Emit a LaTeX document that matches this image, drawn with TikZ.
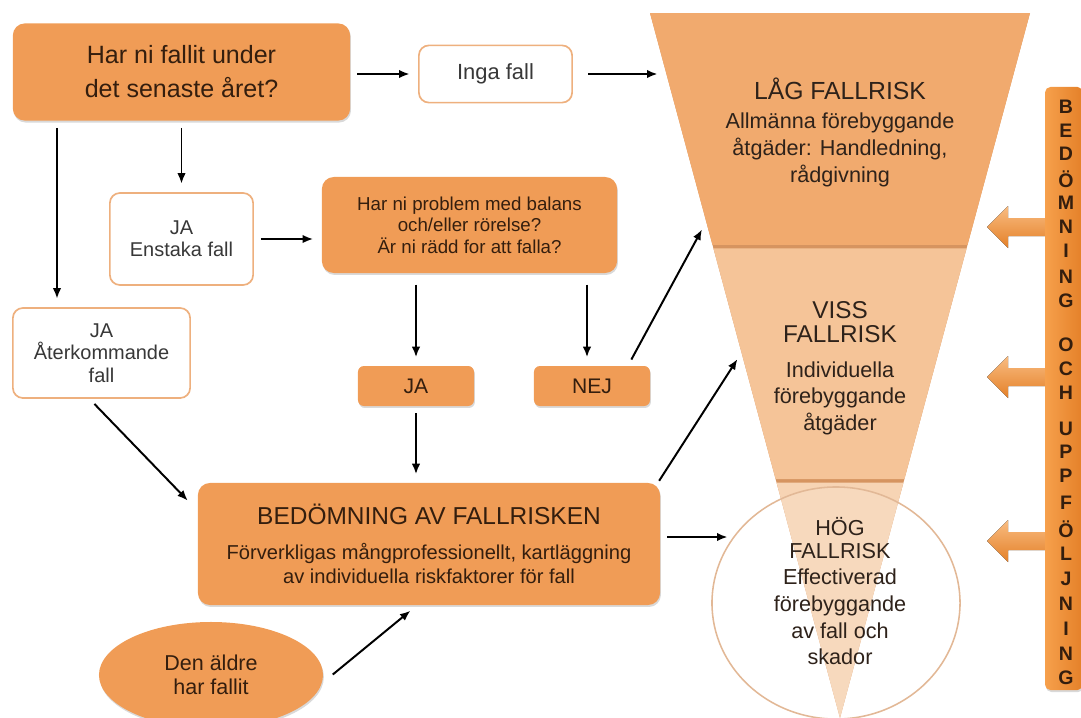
\documentclass[tikz,border=0pt]{standalone}
\usepackage{fontspec}
\setmainfont{Liberation Sans}
\usetikzlibrary{arrows.meta,calc,shadows,shapes.geometric}

\definecolor{boxorange}{RGB}{240,156,86}
\definecolor{boxtext}{RGB}{52,30,14}
\definecolor{boxline}{RGB}{238,176,126}
\definecolor{graytext}{RGB}{56,56,56}
\definecolor{lagfill}{RGB}{241,170,110}
\definecolor{vissfill}{RGB}{245,196,152}
\definecolor{hogfill}{RGB}{247,212,180}
\definecolor{bandfill}{RGB}{214,148,96}
\definecolor{ringline}{RGB}{226,184,150}
\definecolor{risktext}{RGB}{46,34,26}
\definecolor{barlight}{RGB}{246,160,76}
\definecolor{bardark}{RGB}{228,128,40}

\begin{document}
\begin{tikzpicture}[x=0.025cm,y=-0.025cm,
  orangebox/.style={fill=boxorange, rounded corners=0.3cm, text=boxtext, align=center,
    drop shadow={shadow xshift=0.6pt, shadow yshift=-1.4pt, opacity=0.3}},
  whitebox/.style={draw=boxline, line width=1.2pt, fill=white, rounded corners=0.25cm,
    text=graytext, align=center},
  conn/.style={-{Latex[length=7.5pt,width=6pt]}, line width=1.4pt, shorten <=5pt, shorten >=6pt},
  risktxt/.style={text=risktext, align=center},
  bokstav/.style={text=boxtext, font=\fontsize{13.9}{14}\selectfont\bfseries},
  blockpil/.style={top color=barlight!70!white, bottom color=bardark}]

\useasboundingbox (0,0) rectangle (1081,718);

\node[orangebox, minimum width=8.43cm, minimum height=2.43cm,
  font=\fontsize{17.8}{24.2}\selectfont] (fraga) at (181.5,72) {Har ni fallit under\\det senaste året?};
\node[whitebox, minimum width=3.83cm, minimum height=1.43cm,
  font=\fontsize{15.6}{18}\selectfont] (inga) at (495.5,74) {Inga fall};
\node[whitebox, minimum width=3.58cm, minimum height=2.3cm,
  font=\fontsize{14.2}{15.6}\selectfont] (enstaka) at (181.5,239) {JA\\Enstaka fall};
\node[whitebox, minimum width=4.43cm, minimum height=2.25cm,
  font=\fontsize{14.2}{16}\selectfont] (ater) at (101.5,353) {JA\\Återkommande\\fall};
\node[orangebox, minimum width=7.38cm, minimum height=2.4cm,
  font=\fontsize{13.3}{15.3}\selectfont] (balans) at (469.5,225)
  {Har ni problem med balans\\och/eller rörelse?\\Är ni rädd for att falla?};
\node[orangebox, rounded corners=0.15cm, minimum width=2.9cm, minimum height=1cm,
  font=\fontsize{15}{16}\selectfont] (ja) at (416,386) {JA};
\node[orangebox, rounded corners=0.15cm, minimum width=2.9cm, minimum height=1cm,
  font=\fontsize{15}{16}\selectfont] (nej) at (592,386) {NEJ};
\node[orangebox, minimum width=11.55cm, minimum height=3.05cm,
  font=\fontsize{14.3}{17}\selectfont] (bed) at (429,544)
  {{\fontsize{17.4}{17}\selectfont BEDÖMNING AV FALLRISKEN}\\[8pt]Förverkligas mångprofessionellt, kartläggning\\av individuella riskfaktorer för fall};
\node[orangebox, ellipse, minimum width=5.6cm, minimum height=2.65cm,
  font=\fontsize{15.3}{17}\selectfont] (aldre) at (211,675) {Den äldre\\har fallit};

\coordinate (ftl) at (650,13);
\coordinate (ftr) at (1030,13);
\coordinate (fap) at (840,718);
\fill[bandfill] (ftl) -- (ftr) -- (fap) -- cycle;
\fill[lagfill] (ftl) -- (ftr) -- ($(ftr)!0.329!(fap)$) -- ($(ftl)!0.329!(fap)$) -- cycle;
\fill[vissfill] ($(ftl)!0.334!(fap)$) -- ($(ftr)!0.334!(fap)$) -- ($(ftr)!0.661!(fap)$) -- ($(ftl)!0.661!(fap)$) -- cycle;
\fill[hogfill] ($(ftl)!0.666!(fap)$) -- ($(ftr)!0.666!(fap)$) -- (fap) -- cycle;
\node[ellipse, draw=ringline, line width=1.1pt, fill=white, fill opacity=0.12,
  minimum width=6.2cm, minimum height=5.8cm] (hog) at (836,603) {};

\node[risktxt, font=\fontsize{17.6}{20}\selectfont] (lagrubrik) at (840,89) {LÅG FALLRISK};
\node[risktxt, font=\fontsize{15.4}{19.2}\selectfont] (lagtext) at (840,150)
  {Allmänna förebyggande\\åtgäder: Handledning,\\rådgivning};
\node[risktxt, font=\fontsize{17.3}{17}\selectfont] (vissrubrik) at (840,322) {VISS\\FALLRISK};
\node[risktxt, font=\fontsize{15.4}{18.8}\selectfont] (visstext) at (840,398)
  {Individuella\\förebyggande\\åtgäder};
\node[risktxt, font=\fontsize{15.4}{15.8}\selectfont] (hogrubrik) at (840,538) {HÖG\\FALLRISK};
\node[risktxt, font=\fontsize{15.4}{19}\selectfont] (hogtext) at (840,617)
  {Effectiverad\\förebyggande\\av fall och\\skador};

\foreach \y in {227,377,541}
  \fill[blockpil] (987,\y) -- (1008,\y-21) -- (1008,\y-9) -- (1048,\y-9)
    -- (1048,\y+9) -- (1008,\y+9) -- (1008,\y+21) -- cycle;
\node[rounded corners=4pt, left color=barlight, right color=bardark,
  minimum width=0.95cm, minimum height=15.075cm,
  drop shadow={shadow xshift=0.6pt, shadow yshift=-1.4pt, opacity=0.3}] (bar) at (1064,388.5) {};
\foreach \ch/\y in {B/107,E/131,D/154,Ö/179,M/203,N/227,I/251,N/277,G/301,
    O/345,C/369,H/393,U/429,P/452,P/476,F/503,Ö/529,L/554,J/579,N/604,I/629,N/654,G/678}
  \node[bokstav] (b\y) at (1066,\y) {\ch};

\coordinate (lagin) at (666,74);
\coordinate (lagnej) at (706,222);
\coordinate (vissin) at (742,352);
\coordinate (hogin) at (736,537);

\draw[conn] (fraga.east |- inga.west) -- (inga.west);
\draw[conn, shorten <=11pt] (inga.east) -- (lagin);
\draw[conn] (fraga.south -| enstaka.north) -- (enstaka.north);
\draw[conn] (fraga.south -| 57,0) -- (ater.north -| 57,0);
\draw[conn] (enstaka.east) -- (enstaka.east -| balans.west);
\draw[conn, shorten <=8pt] (balans.south -| ja.north) -- (ja.north);
\draw[conn, shorten <=8pt] (balans.south -| 587,0) -- (nej.north -| 587,0);
\draw[conn] ($(nej.north)+(36,0)$) -- (lagnej);
\draw[conn] (ja.south) -- (ja.south |- bed.north);
\draw[conn] ($(ater.south)+(-12,0)$) -- ($(bed.north west)+(-4,24)$);
\draw[conn] ($(bed.north east)+(-5,4)$) -- (vissin);
\draw[conn] ($(bed.east)+(0,-7)$) -- (hogin);
\draw[conn] ($(aldre.east)+(4,4)$) -- ($(bed.south)+(-12,0)$);
\end{tikzpicture}
\end{document}
